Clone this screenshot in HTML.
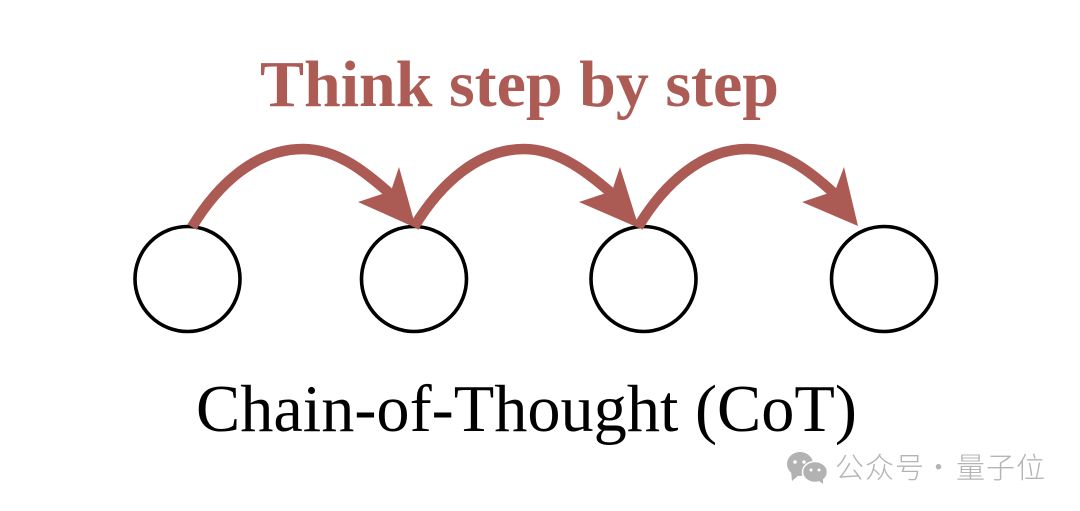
<!DOCTYPE html>
<html>
<head>
<meta charset="utf-8">
<style>
html,body{margin:0;padding:0;background:#fff;width:1080px;height:511px;overflow:hidden}
svg{display:block}
</style>
</head>
<body>
<svg width="1080" height="511" viewBox="0 0 1080 511" xmlns="http://www.w3.org/2000/svg">
<rect width="1080" height="511" fill="#fff"/>
<g fill="none" stroke="#000" stroke-width="3.6">
<circle cx="187.500" cy="279" r="52.500"/>
<circle cx="414" cy="279" r="52.500"/>
<circle cx="643.500" cy="279" r="52.500"/>
<circle cx="884" cy="279" r="52.500"/>
</g>
<g fill="none" stroke="#ab5b54" stroke-width="10.500">
<path d="M192,227 C218,184 256,149 303,149 C338,149 366,172 396,199"/>
<path d="M414,227 C440,184 478,149 524,149 C558,149 588,172 618,199"/>
<path d="M638,227 C664,184 702,149 747,149 C782,149 812,172 840,199"/>
</g>
<g fill="#ab5b54">
<polygon points="416,228 399,167 391,191 358,202"/>
<polygon points="639,228 620,167 612,191 579,202"/>
<polygon points="858,226 844,167 835,191 802,202"/>
</g>
<text x="260" y="106" font-family="'Liberation Serif',serif" font-weight="700" font-size="66" fill="#ad5c55" textLength="519" lengthAdjust="spacingAndGlyphs">Think step by step</text>
<text x="196" y="431" font-family="'Liberation Serif',serif" font-size="67" fill="#000" textLength="661" lengthAdjust="spacingAndGlyphs">Chain-of-Thought (CoT)</text>
<g fill="#b2b2b2">
<ellipse cx="800" cy="464" rx="13" ry="12"/>
<polygon points="791,471 792,481 799,475"/>
<ellipse cx="815" cy="472" rx="12.500" ry="10.500" stroke="#fff" stroke-width="1.500"/>
<polygon points="818,480 823,484 823,478"/>
</g>
<g fill="#fff">
<circle cx="795" cy="462" r="1.800"/>
<circle cx="804" cy="462" r="1.800"/>
<circle cx="811" cy="470" r="1.500"/>
<circle cx="819" cy="470" r="1.500"/>
</g>
<g font-family="'Noto Sans CJK SC','WenQuanYi Zen Hei',sans-serif" font-size="29" font-weight="300" fill="#b4b4b4">
<text x="835" y="478">公</text>
<text x="865" y="478">众</text>
<text x="895" y="478">号</text>
<text x="924" y="478">·</text>
<text x="956" y="478">量</text>
<text x="986" y="478">子</text>
<text x="1016" y="478">位</text>
</g>
</svg>
</body>
</html>
